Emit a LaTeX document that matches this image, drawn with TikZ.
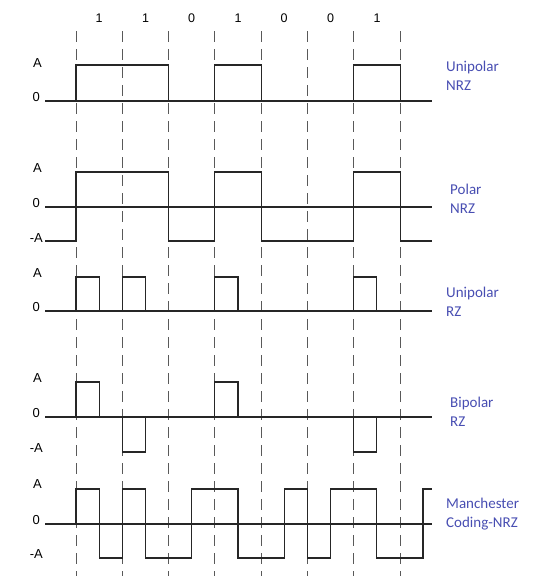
\documentclass[tikz,border=0pt]{standalone}
\usepackage{fontspec}
\setmainfont{Liberation Sans}
\newfontfamily\lblfont{Carlito}
\definecolor{lblblue}{RGB}{72,78,178}
\begin{document}
\begin{tikzpicture}[x=1pt,y=-1pt,
  sig/.style={line width=1.1pt,black!85},
  axisln/.style={line width=1.1pt,black!85},
  grid/.style={line width=0.9pt,black!65,dash pattern=on 11pt off 7pt},
  lev/.style={font=\fontsize{13}{15}\selectfont,anchor=east,inner sep=0pt},
  bit/.style={font=\fontsize{12.5}{14}\selectfont,inner sep=0pt},
  codename/.style={font=\lblfont\fontsize{15}{18.5}\selectfont,text=lblblue,align=left,anchor=west,inner sep=0pt}]
\useasboundingbox (0,0) rectangle (546,581);
% dashed bit boundaries
\foreach \i/\x in {0/76,1/122.3,2/168.6,3/214.9,4/261.2,5/307.5,6/353.8,7/400.1}{
  \coordinate (t\i) at (\x,31);
  \coordinate (b\i) at (\x,576);
  \draw[grid] (t\i) -- (b\i);
}
% bits
\foreach \x/\b [count=\k] in {99/1,145.5/1,191.5/0,238/1,284/0,330.5/0,377/1}
  \node[bit] (bit\k) at (\x,18) {\b};
% ---------- Unipolar NRZ
\node[lev] (u1A) at (42,63) {A};
\node[lev] (u10) at (40,97) {0};
\coordinate (u1s) at (45,101); \coordinate (u1e) at (432,101);
\draw[axisln] (u1s) -- (u1e);
\draw[sig] (76,101) |- (168.6,65) -- (168.6,101);
\draw[sig] (214.9,101) |- (261.2,65) -- (261.2,101);
\draw[sig] (353.8,101) |- (400.1,65) -- (400.1,101);
\node[codename] (n1) at (446,76) {Unipolar\\NRZ};
% ---------- Polar NRZ
\node[lev] (p2A) at (42,168) {A};
\node[lev] (p20) at (40,203) {0};
\node[lev] (p2m) at (43,238) {-A};
\coordinate (p2s) at (45,207); \coordinate (p2e) at (432,207);
\draw[axisln] (p2s) -- (p2e);
\draw[sig] (45,241) -- (76,241) -- (76,172) -- (168.6,172) -- (168.6,241) -- (214.9,241)
  -- (214.9,172) -- (261.2,172) -- (261.2,241) -- (353.8,241) -- (353.8,172)
  -- (400.1,172) -- (400.1,241) -- (432,241);
\node[codename] (n2) at (450,199) {Polar\\NRZ};
% ---------- Unipolar RZ
\node[lev] (u3A) at (42,273) {A};
\node[lev] (u30) at (40,307) {0};
\coordinate (u3s) at (45,311); \coordinate (u3e) at (432,311);
\draw[axisln] (u3s) -- (u3e);
\foreach \a/\b in {76/99.1,122.3/145.4,214.9/238,353.8/376.9}
  \draw[sig] (\a,311) |- (\b,277) -- (\b,311);
\node[codename] (n3) at (446,302) {Unipolar\\RZ};
% ---------- Bipolar RZ
\node[lev] (b4A) at (42,378) {A};
\node[lev] (b40) at (40,413) {0};
\node[lev] (b4m) at (43,448) {-A};
\coordinate (b4s) at (45,417); \coordinate (b4e) at (432,417);
\draw[axisln] (b4s) -- (b4e);
\draw[sig] (76,417) |- (99.1,382) -- (99.1,417);
\draw[sig] (214.9,417) |- (238,382) -- (238,417);
\draw[sig] (122.3,417) |- (145.4,452) -- (145.4,417);
\draw[sig] (353.8,417) |- (376.9,452) -- (376.9,417);
\node[codename] (n4) at (450,412) {Bipolar\\RZ};
% ---------- Manchester
\node[lev] (m5A) at (42,484) {A};
\node[lev] (m50) at (40,520) {0};
\node[lev] (m5m) at (43,554) {-A};
\coordinate (m5s) at (45,524); \coordinate (m5e) at (432,524);
\draw[axisln] (m5s) -- (m5e);
\draw[sig] (76,524) -- (76,489) -- (99.1,489) -- (99.1,558) -- (122.3,558) -- (122.3,489)
  -- (145.4,489) -- (145.4,558) -- (191.7,558) -- (191.7,489) -- (238,489) -- (238,558)
  -- (284.3,558) -- (284.3,489) -- (307.5,489) -- (307.5,558) -- (330.6,558) -- (330.6,489)
  -- (376.9,489) -- (376.9,558) -- (423,558) -- (423,489) -- (432,489);
\node[codename] (n5) at (446,514) {Manchester\\Coding-NRZ};
\end{tikzpicture}
\end{document}
